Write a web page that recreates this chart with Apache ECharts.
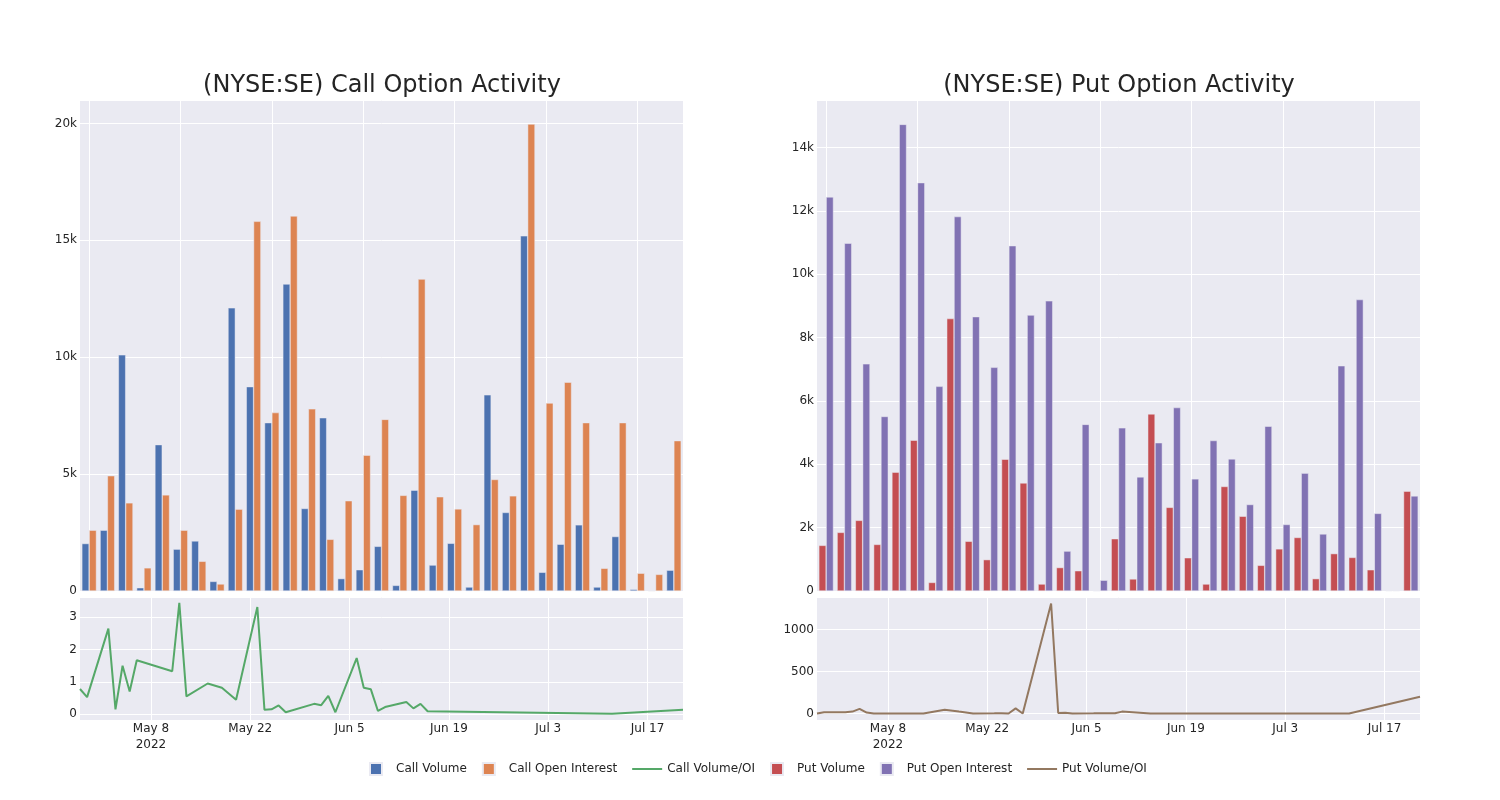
<!DOCTYPE html>
<html><head><meta charset="utf-8">
<script src="https://cdn.jsdelivr.net/npm/echarts@6/dist/echarts.min.js"></script>
<style>html,body{margin:0;padding:0;background:#fff}#c{width:1500px;height:800px}</style>
</head><body><div id="c"></div>
<script>
const dates = ['2022-04-28','2022-04-29','2022-05-02','2022-05-03','2022-05-04','2022-05-05','2022-05-06','2022-05-11','2022-05-12','2022-05-13','2022-05-16','2022-05-18','2022-05-20','2022-05-23','2022-05-24','2022-05-25','2022-05-26','2022-05-27','2022-05-31','2022-06-01','2022-06-02','2022-06-03','2022-06-06','2022-06-07','2022-06-08','2022-06-09','2022-06-10','2022-06-13','2022-06-14','2022-06-15','2022-06-16','2022-07-12','2022-07-22'];
const callVolume = [2030,2600,10100,140,6260,1790,2140,410,12110,8740,7200,13130,3530,7410,530,910,1910,240,4310,1110,2040,170,8390,3360,15190,800,2000,2830,170,2330,70,10,890];
const callOI = [2600,4930,3770,990,4110,2600,1270,300,3500,15810,7630,16040,7790,2210,3860,5810,7340,4090,13340,4030,3510,2840,4770,4070,19970,8040,8930,7200,970,7200,760,710,6430];
const callRatio = [0.78,0.53,2.65,0.15,1.5,0.7,1.67,1.33,3.45,0.55,0.95,0.82,0.45,3.32,0.14,0.15,0.27,0.06,0.32,0.28,0.57,0.06,1.74,0.82,0.77,0.1,0.22,0.38,0.18,0.32,0.09,0.01,0.14];
const putVolume = [1440,1850,2230,1470,3750,4760,270,8600,1570,990,4160,3410,220,740,640,10,1650,380,5590,2640,1050,220,3300,2360,810,1330,1690,390,1180,1060,670,15,3150];
const putOI = [12440,10980,7170,5510,14730,12890,6460,11820,8660,7060,10900,8710,9160,1260,5260,340,5150,3600,4680,5790,3540,4750,4170,2730,5200,2100,3720,1800,7110,9200,2450,15,3000];
const putRatio = [0,15,15,22,55,10,0,0,0,0,45,22,0,2,3,0,60,0,1310,5,8,0,2,3,3,3,22,6,0,0,0,0,198];
const tickDates = ['2022-05-08','2022-05-22','2022-06-05','2022-06-19','2022-07-03','2022-07-17'];
const tickLabels = ['May 8\n2022','May 22','Jun 5','Jun 19','Jul 3','Jul 17'];

const ts = s => { const p = s.split('-').map(Number); return Date.UTC(p[0], p[1] - 1, p[2]); };
const FONT = 'DejaVu Sans';
const TXT = 'rgb(36,36,36)';
const BG = '#EAEAF2';
const tickTs = tickDates.map(ts);
const kFmt = v => v === 0 ? '0' : (v / 1000) + 'k';
const plainFmt = v => String(v);

function catAxis(g) {
  return {type:'category', gridIndex:g, data:dates, boundaryGap:true,
    axisLine:{show:false}, axisTick:{show:false, alignWithLabel:true}, axisLabel:{show:false},
    splitLine:{show:true, interval:4, alignWithLabel:true, lineStyle:{color:'#fff', width:1}}};
}
function dateAxis(g) {
  return {type:'value', gridIndex:g, min:ts(dates[0]), max:ts(dates[dates.length-1]), scale:true,
    axisLine:{show:false}, axisTick:{show:false, customValues:tickTs},
    axisLabel:{customValues:tickTs, color:TXT, fontFamily:FONT, fontSize:12, margin:1, lineHeight:16,
      formatter: v => { const i = tickTs.indexOf(v); return i >= 0 ? tickLabels[i] : ''; }},
    splitLine:{show:true, lineStyle:{color:'#fff', width:1}}};
}
function valAxis(g, o) {
  return Object.assign({type:'value', gridIndex:g, axisLine:{show:false}, axisTick:{show:false},
    splitLine:{show:true, lineStyle:{color:'#fff', width:1}}}, o);
}
const lbl = extra => Object.assign({color:TXT, fontFamily:FONT, fontSize:12, margin:3, showMinLabel:false, showMaxLabel:false}, extra);

const barStyle = c => ({color:c, borderColor:BG, borderWidth:0.5});
const SQ = 'path://M0 0H10V10H0Z';
const LN = 'path://M0 0H30V2H0Z';

const option = {
  animation:false,
  backgroundColor:'#fff',
  textStyle:{fontFamily:FONT},
  title:[
    {text:'(NYSE:SE) Call Option Activity', left:377, top:69, textAlign:'center',
     textStyle:{fontFamily:FONT, fontSize:24, fontWeight:'normal', color:TXT}},
    {text:'(NYSE:SE) Put Option Activity', left:1114, top:69, textAlign:'center',
     textStyle:{fontFamily:FONT, fontSize:24, fontWeight:'normal', color:TXT}}
  ],
  legend:{
    bottom:19, left:364, itemWidth:30, itemHeight:12, itemGap:15,
    textStyle:{fontFamily:FONT, fontSize:12, color:TXT},
    data:[
      {name:'Call Volume', icon:SQ},
      {name:'Call Open Interest', icon:SQ},
      {name:'Call Volume/OI', icon:LN},
      {name:'Put Volume', icon:SQ},
      {name:'Put Open Interest', icon:SQ},
      {name:'Put Volume/OI', icon:LN}
    ]
  },
  grid:[
    {left:80, top:100, width:603, height:491, show:true, backgroundColor:BG, borderWidth:0},
    {left:80, top:597, width:603, height:123, show:true, backgroundColor:BG, borderWidth:0},
    {left:817, top:100, width:603, height:491, show:true, backgroundColor:BG, borderWidth:0},
    {left:817, top:597, width:603, height:123, show:true, backgroundColor:BG, borderWidth:0}
  ],
  xAxis:[catAxis(0), dateAxis(1), catAxis(2), dateAxis(3)],
  yAxis:[
    valAxis(0, {min:0, max:21000, interval:5000, axisLabel:lbl({formatter:kFmt, showMinLabel:true})}),
    valAxis(1, {min:-0.18, max:3.63, splitNumber:5, axisLabel:lbl({formatter:plainFmt})}),
    valAxis(2, {min:0, max:15500, interval:2000, axisLabel:lbl({formatter:kFmt, showMinLabel:true})}),
    valAxis(3, {min:-78, max:1388, splitNumber:3, axisLabel:lbl({formatter:plainFmt})})
  ],
  series:[
    {name:'Call Volume', type:'bar', xAxisIndex:0, yAxisIndex:0, data:callVolume, barGap:'0%', barCategoryGap:'20%', itemStyle:barStyle('#4C72B0')},
    {name:'Call Open Interest', type:'bar', xAxisIndex:0, yAxisIndex:0, data:callOI, barGap:'0%', barCategoryGap:'20%', itemStyle:barStyle('#DD8452')},
    {name:'Call Volume/OI', type:'line', xAxisIndex:1, yAxisIndex:1, symbol:'none', data:dates.map((d,i)=>[ts(d), callRatio[i]]), lineStyle:{color:'#55A868', width:2}, itemStyle:{color:'#55A868'}},
    {name:'Put Volume', type:'bar', xAxisIndex:2, yAxisIndex:2, data:putVolume, barGap:'0%', barCategoryGap:'20%', itemStyle:barStyle('#C44E52')},
    {name:'Put Open Interest', type:'bar', xAxisIndex:2, yAxisIndex:2, data:putOI, barGap:'0%', barCategoryGap:'20%', itemStyle:barStyle('#8172B3')},
    {name:'Put Volume/OI', type:'line', xAxisIndex:3, yAxisIndex:3, symbol:'none', data:dates.map((d,i)=>[ts(d), putRatio[i]]), lineStyle:{color:'#937860', width:2}, itemStyle:{color:'#937860'}}
  ]
};
echarts.init(document.getElementById('c'), null, {renderer:'canvas'}).setOption(option);
</script>
</body></html>
